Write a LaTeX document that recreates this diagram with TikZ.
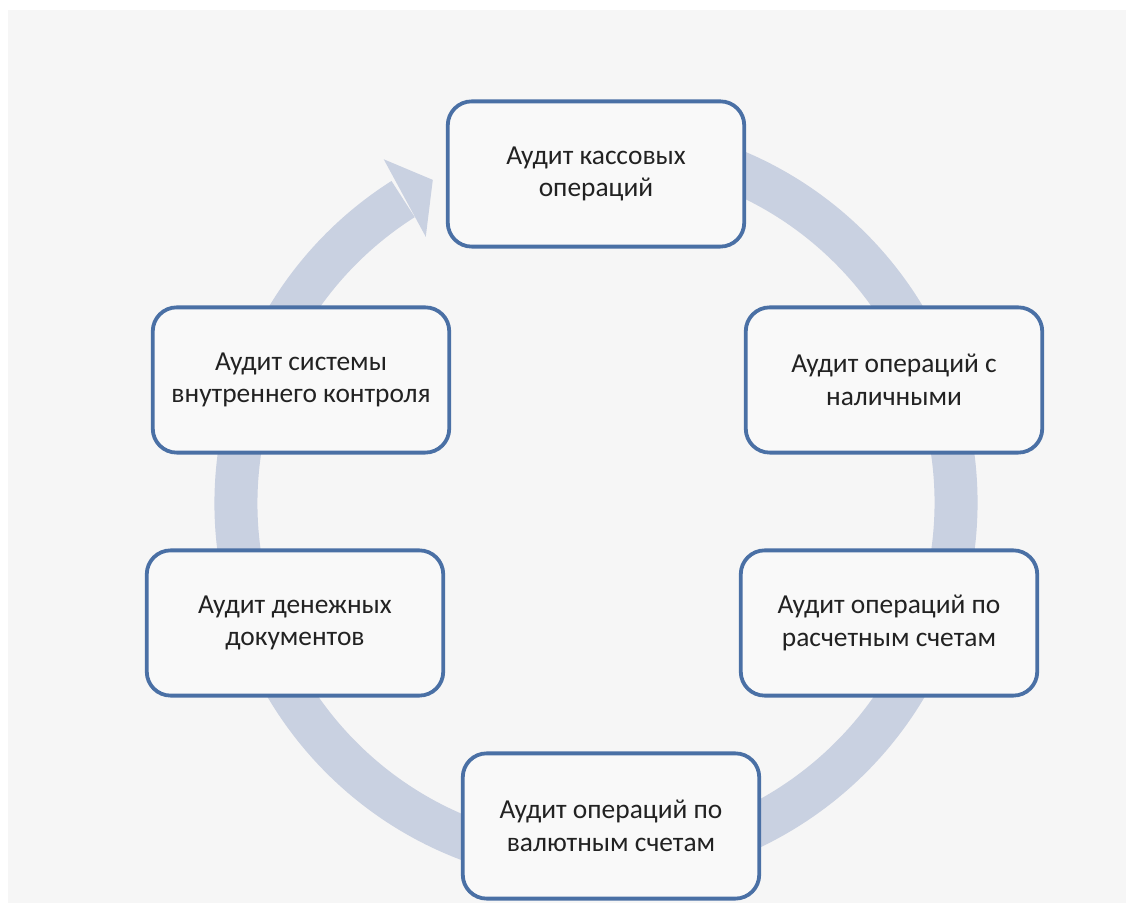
\documentclass[tikz,border=0pt]{standalone}
\usepackage{fontspec}
\setmainfont{Carlito}
\usetikzlibrary{calc}
\definecolor{bgcol}{HTML}{F6F6F6}
\definecolor{ringcol}{HTML}{C9D1E1}
\definecolor{boxline}{HTML}{4A70A5}
\definecolor{boxfill}{HTML}{F9F9F9}
\definecolor{txtcol}{HTML}{222222}

\begin{document}
\begin{tikzpicture}[x=0.025cm, y=0.025cm,
		auditbox/.style={draw=boxline, line width=2.7pt, fill=boxfill, rounded corners=17pt,
			minimum width=7.41cm, minimum height=3.63cm, align=center, text=txtcol,
			font=\fontsize{19.5}{23.2}\selectfont}]
		%%%%% START %%%%%
		\useasboundingbox (0, 0) rectangle (1126, 912);
		\fill[white] (0, 0) rectangle (1126, 912);
		\fill[bgcol] (8, 9) rectangle (1126, 902);
		
		% ring with arrowhead
		\coordinate (c) at (596, 409);
		\draw[ringcol, line width=1.075cm] ($(c)+(80:360)$) arc[start angle=80, end angle=-237.6, radius=360];
		\fill[ringcol] ($(c)+(121.7:404)$) -- ($(c)+(116.8:362)$) -- ($(c)+(122.6:316)$) -- cycle;
		
		% boxes
		\node[auditbox] (kassa) at (596, 738) {Аудит кассовых\\операций};
		\node[auditbox] (nalich) at (894, 532) {Аудит операций с\\наличными};
		\node[auditbox] (rasch) at (889, 289) {Аудит операций по\\расчетным счетам};
		\node[auditbox] (valut) at (611, 86) {Аудит операций по\\валютным счетам};
		\node[auditbox] (denezh) at (295, 289) {Аудит денежных\\документов};
		\node[auditbox] (sistema) at (301, 532) {Аудит системы\\внутреннего контроля};
		%%%%% END %%%%%
	\end{tikzpicture}
\end{document}
